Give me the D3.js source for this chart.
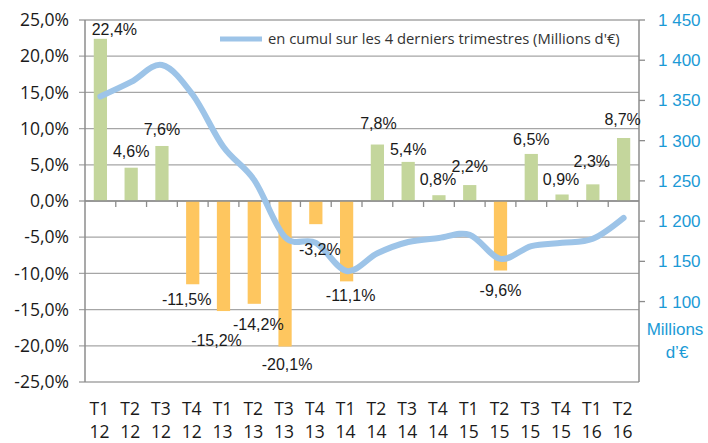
<!DOCTYPE html>
<meta charset="utf-8">
<title>Evolution trimestrielle</title>
<style>
body {
  margin: 0;
  background: #fff;
}

.axis-label {
  font-family: "Open Sans", sans-serif;
  font-size: 17.5px;
  fill: #1a1a1a;
}

.value-label {
  font-family: "Liberation Sans", Arial, sans-serif;
  font-size: 16px;
  fill: #1a1a1a;
}

.right-label {
  font-family: "Liberation Sans", Arial, sans-serif;
  font-size: 17px;
  fill: #1b9ad6;
}

.legend-label {
  font-family: "Open Sans", sans-serif;
  font-size: 14.8px;
  fill: #333;
}
</style>
<body>
<svg width="708" height="443"></svg>

<script src="https://d3js.org/d3.v7.min.js"></script>

<script>
// quarterly change (%) + cumulated amount over the last 4 quarters (M€)
// dx / gap = manual label placement (as moved by hand in the original)
var data = [
  {q: "T1", yr: "12", pct: 22.4,  cumul: 1355, dx: 14,   gap: 4},
  {q: "T2", yr: "12", pct: 4.6,   cumul: 1373, dx: 0,    gap: 11},
  {q: "T3", yr: "12", pct: 7.6,   cumul: 1394, dx: 0,    gap: 11},
  {q: "T4", yr: "12", pct: -11.5, cumul: 1357, dx: -6,   gap: 21},
  {q: "T1", yr: "13", pct: -15.2, cumul: 1292, dx: -7,   gap: 35},
  {q: "T2", yr: "13", pct: -14.2, cumul: 1251, dx: 4,    gap: 26},
  {q: "T3", yr: "13", pct: -20.1, cumul: 1180, dx: 2,    gap: 23},
  {q: "T4", yr: "13", pct: -3.2,  cumul: 1173, dx: 4,    gap: 31},
  {q: "T1", yr: "14", pct: -11.1, cumul: 1138, dx: 4,    gap: 20},
  {q: "T2", yr: "14", pct: 7.8,   cumul: 1160, dx: 1,    gap: 16},
  {q: "T3", yr: "14", pct: 5.4,   cumul: 1174, dx: 0,    gap: 7},
  {q: "T4", yr: "14", pct: 0.8,   cumul: 1179, dx: -1,   gap: 10},
  {q: "T1", yr: "15", pct: 2.2,   cumul: 1183, dx: 0,    gap: 13},
  {q: "T2", yr: "15", pct: -9.6,  cumul: 1153, dx: 0,    gap: 25},
  {q: "T3", yr: "15", pct: 6.5,   cumul: 1169, dx: 0,    gap: 9},
  {q: "T4", yr: "15", pct: 0.9,   cumul: 1173, dx: -1,   gap: 9},
  {q: "T1", yr: "16", pct: 2.3,   cumul: 1178, dx: -1,   gap: 17},
  {q: "T2", yr: "16", pct: 8.7,   cumul: 1204, dx: -1,   gap: 13}
];

var svg = d3.select("svg"),
    plotLeft = 85, plotRight = 639, plotTop = 20, plotBottom = 382;

//French number formats (comma decimal, space thousands, plain hyphen)
var fr = d3.formatLocale({decimal: ",", thousands: " ", grouping: [3], currency: ["", " €"], minus: "-"});
var fmtAxis = fr.format(".1f"),
    fmtThousands = fr.format(",d");

var x = d3.scaleBand()
    .domain(d3.range(data.length))
    .range([plotLeft, plotRight])
    .paddingInner(0.57)
    .paddingOuter(0.285);

var y = d3.scaleLinear().domain([-25, 25]).range([plotBottom, plotTop]);
var y2 = d3.scaleLinear().domain([1000, 1450]).range([plotBottom, plotTop]);

var step = x.step();
function cx(i) { return x(i) + x.bandwidth() / 2; }

//gridlines
svg.append("g")
  .selectAll("line")
  .data(d3.range(-25, 26, 5))
  .enter().append("line")
    .attr("x1", plotLeft - 6).attr("x2", plotRight)
    .attr("y1", function(d) { return y(d); })
    .attr("y2", function(d) { return y(d); })
    .style("stroke", "#a6a6a6")
    .style("stroke-width", 1.3);

//left axis labels
svg.append("g")
  .selectAll("text")
  .data(d3.range(-25, 26, 5))
  .enter().append("text")
    .attr("class", "axis-label")
    .attr("x", plotLeft - 16)
    .attr("y", function(d) { return y(d); })
    .attr("dy", "0.35em")
    .attr("text-anchor", "end")
    .text(function(d) { return fmtAxis(d) + "%"; });

//bars
svg.append("g")
  .selectAll("rect")
  .data(data)
  .enter().append("rect")
    .attr("x", function(d, i) { return x(i); })
    .attr("width", x.bandwidth())
    .attr("y", function(d) { return y(Math.max(0, d.pct)); })
    .attr("height", function(d) { return Math.abs(y(d.pct) - y(0)); })
    .style("fill", function(d) { return d.pct >= 0 ? "#c4d69c" : "#fec65f"; });

//axes lines
svg.append("line")
    .attr("x1", plotLeft).attr("x2", plotLeft).attr("y1", plotTop).attr("y2", plotBottom)
    .style("stroke", "#8c8c8c").style("stroke-width", 1.5);
svg.append("line")
    .attr("x1", plotRight).attr("x2", plotRight).attr("y1", plotTop).attr("y2", plotBottom)
    .style("stroke", "#8c8c8c").style("stroke-width", 1.5);
svg.append("line")
    .attr("x1", plotLeft).attr("x2", plotRight).attr("y1", y(0)).attr("y2", y(0))
    .style("stroke", "#8c8c8c").style("stroke-width", 1.5);

//category ticks on the zero line
svg.append("g")
  .selectAll("line")
  .data(d3.range(1, data.length))
  .enter().append("line")
    .attr("x1", function(i) { return plotLeft + i * step; })
    .attr("x2", function(i) { return plotLeft + i * step; })
    .attr("y1", y(0)).attr("y2", y(0) + 6)
    .style("stroke", "#8c8c8c").style("stroke-width", 1.3);

//right axis ticks + labels
var rightTicks = d3.range(1100, 1451, 50);
svg.append("g")
  .selectAll("line")
  .data(rightTicks)
  .enter().append("line")
    .attr("x1", plotRight).attr("x2", plotRight + 6)
    .attr("y1", function(d) { return y2(d); })
    .attr("y2", function(d) { return y2(d); })
    .style("stroke", "#8c8c8c").style("stroke-width", 1.3);

svg.append("g")
  .selectAll("text")
  .data(rightTicks)
  .enter().append("text")
    .attr("class", "right-label")
    .attr("x", plotRight + 19)
    .attr("y", function(d) { return y2(d); })
    .attr("dy", "0.35em")
    .text(function(d) { return fmtThousands(d); });

svg.append("text")
    .attr("class", "right-label")
    .attr("x", 675).attr("y", 335)
    .attr("text-anchor", "middle")
    .text("Millions");
svg.append("text")
    .attr("class", "right-label")
    .attr("x", 677).attr("y", 358)
    .attr("text-anchor", "middle")
    .text("d’€");

//category labels (two lines)
var cat = svg.append("g")
  .selectAll("text")
  .data(data)
  .enter().append("text")
    .attr("class", "axis-label")
    .attr("text-anchor", "middle")
    .attr("x", function(d, i) { return cx(i) - 1; });
cat.append("tspan")
    .attr("y", 415)
    .text(function(d) { return d.q; });
cat.append("tspan")
    .attr("x", function(d, i) { return cx(i) - 1; })
    .attr("y", 438)
    .text(function(d) { return d.yr; });

//cumulated line (smoothed)
var line = d3.line()
    .x(function(d, i) { return cx(i); })
    .y(function(d) { return y2(d.cumul); })
    .curve(d3.curveCardinal.tension(0));

svg.append("path")
    .datum(data)
    .attr("d", line)
    .style("fill", "none")
    .style("stroke", "#9dc4e8")
    .style("stroke-width", 6)
    .style("stroke-linecap", "round");

//value labels
svg.append("g")
  .selectAll("text")
  .data(data)
  .enter().append("text")
    .attr("class", "value-label")
    .attr("text-anchor", "middle")
    .attr("x", function(d, i) { return cx(i) + d.dx; })
    .attr("y", function(d) {
      return d.pct >= 0 ? y(d.pct) - d.gap : y(d.pct) + d.gap;
    })
    .text(function(d) { return fr.format(".1f")(d.pct) + "%"; });

//legend
svg.append("line")
    .attr("x1", 220).attr("x2", 262).attr("y1", 39).attr("y2", 39)
    .style("stroke", "#9dc4e8").style("stroke-width", 5);
svg.append("text")
    .attr("class", "legend-label")
    .attr("x", 268).attr("y", 39)
    .attr("dy", "0.35em")
    .text("en cumul sur les 4 derniers trimestres (Millions d'€)");
</script>
</body>
